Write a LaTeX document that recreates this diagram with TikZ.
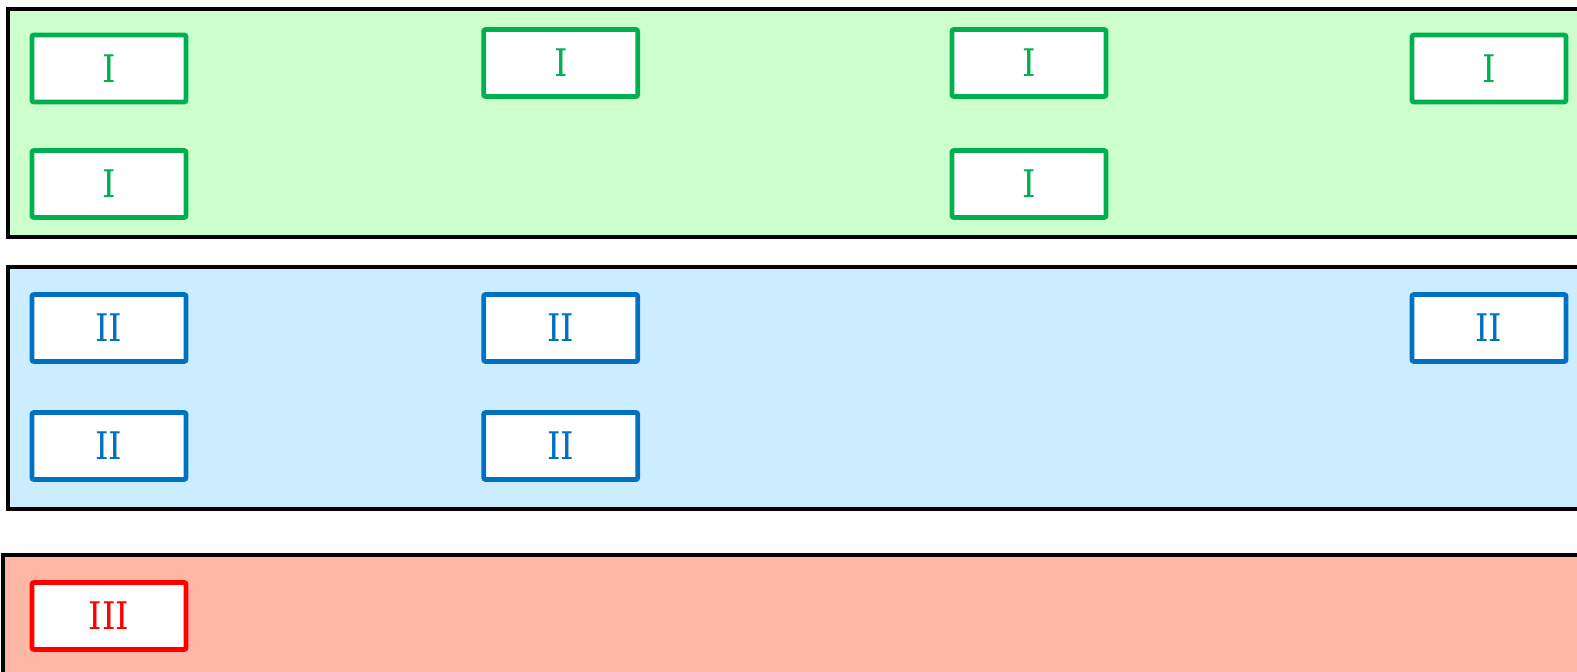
\documentclass[tikz,border=0pt]{standalone}
\usepackage{fontspec}
\newfontfamily\labfont{DejaVu Serif Condensed}
\definecolor{gfill}{RGB}{204,255,204}
\definecolor{gline}{RGB}{0,176,80}
\definecolor{bfill}{RGB}{204,236,255}
\definecolor{bline}{RGB}{0,112,192}
\definecolor{rfill}{RGB}{255,183,165}
\definecolor{rline}{RGB}{255,0,0}
\begin{document}
\begin{tikzpicture}[x=1pt,y=-1pt,
  band/.style={draw=black,line width=4pt},
  cell/.style={draw,fill=white,line width=4.8pt,rounded corners=2pt,
    minimum width=154pt,minimum height=67pt,inner sep=0pt,
    font=\labfont\fontsize{38}{38}\selectfont},
  gcell/.style={cell,draw=gline,text=gline},
  bcell/.style={cell,draw=bline,text=bline},
  rcell/.style={cell,draw=rline,text=rline}]
\useasboundingbox (0,0) rectangle (1577,672);
\clip (0,0) rectangle (1577,672);
\fill[white] (0,0) rectangle (1577,672);
% bands
\draw[band,fill=gfill] (7.5,9) rectangle (1600,237);
\draw[band,fill=bfill] (7.5,267) rectangle (1600,508.7);
\draw[band,fill=rfill] (3,554.7) rectangle (1600,720);
% group I
\node[gcell] (g1) at (109,68.5) {I};
\node[gcell] (g2) at (109,184) {I};
\node[gcell] (g3) at (560.75,63) {I};
\node[gcell] (g4) at (1029,63) {I};
\node[gcell] (g5) at (1029,184) {I};
\node[gcell] (g6) at (1489,68.5) {I};
% group II
\node[bcell] (b1) at (109,328) {II};
\node[bcell] (b2) at (109,446) {II};
\node[bcell] (b3) at (560.75,328) {II};
\node[bcell] (b4) at (560.75,446) {II};
\node[bcell] (b5) at (1489,328) {II};
% group III
\node[rcell] (r1) at (109,616) {III};
\end{tikzpicture}
\end{document}
